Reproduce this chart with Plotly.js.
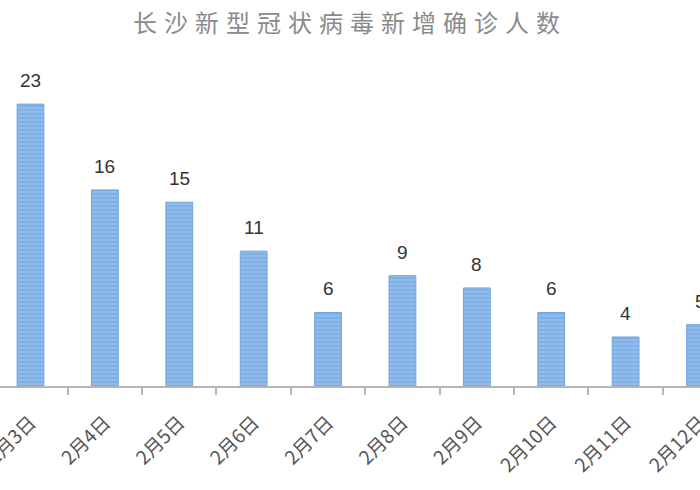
<!DOCTYPE html>
<html>
<head>
<meta charset="utf-8">
<script src="https://cdn.plot.ly/plotly-3.0.1.min.js"></script>
<style>
  html, body { margin: 0; padding: 0; background: #ffffff; }
  #chart { width: 700px; height: 490px; }
  /* the original title is spread out */
  .gtitle { letter-spacing: 7px; }
</style>
</head>
<body>
<div id="chart"></div>
<script>
// daily new confirmed cases, Changsha
const chartTitle = '长沙新型冠状病毒新增确诊人数';
const days = ['2月3日', '2月4日', '2月5日', '2月6日', '2月7日', '2月8日', '2月9日', '2月10日', '2月11日', '2月12日'];
const newCases = [23, 16, 15, 11, 6, 9, 8, 6, 4, 5];

function drawChart() {
    const cjk = '"Noto Sans CJK SC", "Noto Sans", sans-serif';

    const data = [
        {
            type: 'bar',
            x: days,
            y: newCases,
            marker: {
                color: '#86b5e7',
                line: { color: '#72a4db', width: 1 },
                pattern: {
                    shape: '-',
                    fgcolor: '#78a9df',
                    bgcolor: '#8fbcec',
                    size: 4,
                    solidity: 0.3
                }
            },
            hoverinfo: 'x+y'
        }
    ];

    // value labels sit well above each bar
    const valueLabels = days.map((d, i) => ({
        x: d,
        y: newCases[i],
        text: String(newCases[i]),
        showarrow: false,
        yanchor: 'bottom',
        yshift: 11,
        font: { family: 'Liberation Sans, Arial, sans-serif', size: 19, color: '#333333' }
    }));

    const layout = {
        width: 700,
        height: 490,
        title: {
            text: chartTitle,
            x: 0.5,
            xanchor: 'center',
            y: 0.952,
            yanchor: 'middle',
            font: { family: cjk, size: 24, color: '#8a8a8a' }
        },
        margin: { l: 0, r: 0, t: 60, b: 104 },
        bargap: 0.64,
        showlegend: false,
        annotations: valueLabels,
        xaxis: {
            type: 'category',
            range: [-0.41, 9.0],
            tickangle: -45,
            tickson: 'boundaries',
            ticks: 'outside',
            ticklen: 7,
            tickwidth: 2,
            tickcolor: '#b5b5b5',
            showline: true,
            linecolor: '#b5b5b5',
            linewidth: 2,
            showgrid: false,
            zeroline: false,
            tickfont: { family: cjk, size: 19, color: '#555555' },
            ticklabelstandoff: 16
        },
        yaxis: {
            range: [0, 26.6],
            visible: false,
            showgrid: false,
            zeroline: false
        },
        paper_bgcolor: '#ffffff',
        plot_bgcolor: '#ffffff'
    };

    Plotly.newPlot('chart', data, layout, { displayModeBar: false, staticPlot: true });
}

drawChart();
</script>
</body>
</html>
